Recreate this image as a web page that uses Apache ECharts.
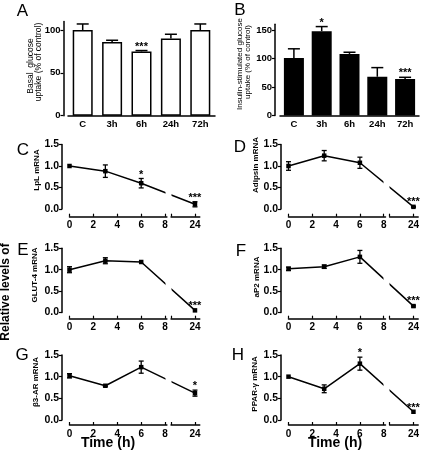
<!DOCTYPE html>
<html><head><meta charset="utf-8">
<script src="https://cdn.jsdelivr.net/npm/echarts@6/dist/echarts.min.js"></script>
<style>html,body{margin:0;padding:0;background:#fff}#c{width:427px;height:453px}</style>
</head><body><div id="c"></div>
<script>
// ---------- data: glucose uptake bar panels ----------
const barCats = ['C', '3h', '6h', '24h', '72h'];
const basalMean = [100, 86, 75, 90, 100];
const basalErr = [7, 2, 1, 5, 7];
const basalSig = ['', '', '***', '', ''];
const basalTicks = [0, 50, 100];
const insMean = [101, 148, 108, 68, 64];
const insErr = [16, 8, 3, 16, 3];
const insSig = ['', '*', '', '', '***'];
const insTicks = [0, 50, 100, 150];

// ---------- data: mRNA time courses ----------
const hours = [0, 3, 6, 24];
const xTicksLeft = [0, 2, 4, 6, 8];
const xTicksRight = [24];
const yTicks = [0, 0.5, 1.0, 1.5];
const lplMean = [1.0, 0.88, 0.60, 0.11];
const lplErr = [0, 0.145, 0.11, 0.06];
const lplSig = ['', '', '*', '***'];
const adipsinMean = [1.0, 1.24, 1.075, 0.05];
const adipsinErr = [0.1, 0.12, 0.13, 0.01];
const adipsinSig = ['', '', '', '***'];
const glutMean = [1.0, 1.21, 1.18, 0.05];
const glutErr = [0.07, 0.07, 0, 0];
const glutSig = ['', '', '', '***'];
const ap2Mean = [1.02, 1.07, 1.3, 0.15];
const ap2Err = [0.04, 0.04, 0.15, 0.02];
const ap2Sig = ['', '', '', '***'];
const b3Mean = [1.02, 0.79, 1.22, 0.62];
const b3Err = [0.05, 0.02, 0.14, 0.07];
const b3Sig = ['', '', '', '*'];
const pparMean = [1.0, 0.72, 1.3, 0.19];
const pparErr = [0, 0.09, 0.15, 0];
const pparSig = ['', '', '*', '***'];

const letters = ['A', 'B', 'C', 'D', 'E', 'F', 'G', 'H'];
const mrnaNames = ['LpL mRNA', 'Adipsin mRNA', 'GLUT-4 mRNA', 'aP2 mRNA', '\u03B23-AR mRNA', 'PPAR-\u03B3 mRNA'];
const basalName = ['Basal  glucose', 'uptake (% of control)'];
const insName = ['Insulin-stimulated glucose', 'uptake (% of control)'];
const sharedY = 'Relative levels of';
const timeTitle = 'Time (h)';

// ---------- layout ----------
const FONT = "'Liberation Sans', Arial, Helvetica, sans-serif";
const BREAK_START = 8, BREAK_END = 22, GAP = 0.5, XMAX = 24.4, LEFT_END = 8.15;
const BLACK = '#000';

const grid = [], xAxis = [], yAxis = [], series = [], graphic = [];

function txt(x, y, text, font, rot) {
  graphic.push({type: 'text', x: x, y: y, rotation: rot || 0, silent: true,
    style: {text: text, font: font, fill: BLACK, textAlign: 'center', textVerticalAlign: 'middle', align: 'center', verticalAlign: 'middle'}});
}

function addBarPanel(c) {
  const gi = grid.length;
  grid.push({left: c.left, top: c.top, width: c.width, height: c.height});
  xAxis.push({type: 'category', gridIndex: gi, data: barCats,
    axisLine: {show: true, lineStyle: {color: BLACK, width: 1.5}}, axisTick: {show: false},
    axisLabel: {color: BLACK, fontFamily: FONT, fontWeight: 'bold', fontSize: 9.5, margin: 4}});
  yAxis.push({type: 'value', gridIndex: gi, min: 0, max: c.max, offset: c.offset,
    axisLine: {show: true, onZero: false, lineStyle: {color: BLACK, width: 1.5}},
    axisTick: {show: true, length: 3, customValues: c.ticks, lineStyle: {color: BLACK, width: 1.2}},
    axisLabel: {customValues: c.ticks, color: BLACK, fontFamily: FONT, fontWeight: 'bold', fontSize: 9.5, margin: 3},
    splitLine: {show: false}});
  series.push({type: 'bar', xAxisIndex: gi, yAxisIndex: gi, data: c.mean, barWidth: 20, silent: true,
    itemStyle: {color: c.fill, borderColor: BLACK, borderWidth: 1.5}});
  const sig = c.sig;
  series.push({type: 'custom', xAxisIndex: gi, yAxisIndex: gi, silent: true, z: 5,
    data: c.mean.map((m, i) => [i, m, c.err[i]]),
    renderItem: function (params, api) {
      const i = params.dataIndex;
      const base = api.coord([api.value(0), api.value(1)]);
      const top = api.coord([api.value(0), api.value(1) + api.value(2)]);
      const ch = [
        {type: 'line', shape: {x1: base[0], y1: base[1], x2: top[0], y2: top[1]}, style: {stroke: BLACK, lineWidth: 1.5}},
        {type: 'line', shape: {x1: top[0] - 6, y1: top[1], x2: top[0] + 6, y2: top[1]}, style: {stroke: BLACK, lineWidth: 1.5}}
      ];
      if (sig[i]) ch.push({type: 'text', x: top[0], y: top[1] - 4,
        style: {text: sig[i], font: 'bold 11px ' + FONT, fill: BLACK, textAlign: 'center', textVerticalAlign: 'middle', align: 'center', verticalAlign: 'middle'}});
      return {type: 'group', children: ch};
    }});
}

function addTimePanel(p) {
  const W = (BREAK_START + GAP + (XMAX - BREAK_END)) * p.px;
  const axStyle = {color: BLACK, width: 1.5};
  const lab = {color: BLACK, fontFamily: FONT, fontWeight: 'bold', fontSize: 10};
  // data grid
  const gi = grid.length;
  grid.push({left: p.x0, top: p.top, width: W, height: p.bottom - p.top});
  xAxis.push({type: 'value', gridIndex: gi, min: 0, max: XMAX,
    breaks: [{start: BREAK_START, end: BREAK_END, gap: GAP}],
    breakArea: {show: true, expandOnClick: false, zigzagAmplitude: 0, zigzagZ: 200,
      itemStyle: {color: '#fff', borderColor: '#fff', borderWidth: 0, opacity: 1}},
    axisLine: {show: false}, axisTick: {show: false}, axisLabel: {show: false}, splitLine: {show: false}});
  yAxis.push({type: 'value', gridIndex: gi, min: 0, max: 1.5, interval: 0.5, offset: p.x0 - p.yAxisX,
    axisLine: {show: true, onZero: false, lineStyle: axStyle},
    axisTick: {show: true, length: 3, customValues: yTicks, lineStyle: {color: BLACK, width: 1.2}},
    axisLabel: Object.assign({customValues: yTicks, margin: 3, formatter: v => Number(v).toFixed(1)}, lab, {fontSize: 10.5}),
    splitLine: {show: false}});
  series.push({type: 'line', xAxisIndex: gi, yAxisIndex: gi, silent: true, clip: false,
    data: hours.map((h, i) => [h, p.mean[i]]), symbol: 'rect', symbolSize: 4.5, z: 3,
    lineStyle: {color: BLACK, width: 1.5}, itemStyle: {color: BLACK}});
  const sig = p.sig;
  series.push({type: 'custom', xAxisIndex: gi, yAxisIndex: gi, silent: true, clip: false, z: 4,
    data: hours.map((h, i) => [h, p.mean[i], p.err[i]]),
    renderItem: function (params, api) {
      const i = params.dataIndex;
      const h = api.value(0), m = api.value(1), e = api.value(2);
      const hi = api.coord([h, m + e]);
      const lo = api.coord([h, m - e]);
      const ch = [];
      if (e > 0) {
        ch.push({type: 'line', shape: {x1: hi[0], y1: hi[1], x2: lo[0], y2: lo[1]}, style: {stroke: BLACK, lineWidth: 1.3}});
        ch.push({type: 'line', shape: {x1: hi[0] - 2.5, y1: hi[1], x2: hi[0] + 2.5, y2: hi[1]}, style: {stroke: BLACK, lineWidth: 1.3}});
        ch.push({type: 'line', shape: {x1: lo[0] - 2.5, y1: lo[1], x2: lo[0] + 2.5, y2: lo[1]}, style: {stroke: BLACK, lineWidth: 1.3}});
      }
      if (sig[i]) ch.push({type: 'text', x: hi[0], y: hi[1] - 4,
        style: {text: sig[i], font: 'bold 11px ' + FONT, fill: BLACK, textAlign: 'center', textVerticalAlign: 'middle', align: 'center', verticalAlign: 'middle'}});
      return {type: 'group', children: ch};
    }});
  // visible broken x axis: left part
  const gl = grid.length;
  grid.push({left: p.x0, top: p.xAxisY - 10, width: LEFT_END * p.px, height: 10});
  xAxis.push({type: 'value', gridIndex: gl, min: 0, max: LEFT_END,
    axisLine: {show: true, onZero: false, lineStyle: axStyle},
    axisTick: {show: true, inside: true, length: 3, customValues: xTicksLeft, lineStyle: {color: BLACK, width: 1.2}},
    axisLabel: Object.assign({customValues: xTicksLeft, margin: 4}, lab), splitLine: {show: false}});
  yAxis.push({type: 'value', gridIndex: gl, show: false, min: 0, max: 1});
  // right part
  const gr = grid.length;
  grid.push({left: p.x0 + (BREAK_START + GAP) * p.px, top: p.xAxisY - 10, width: (XMAX - BREAK_END) * p.px, height: 10});
  xAxis.push({type: 'value', gridIndex: gr, min: BREAK_END, max: XMAX,
    axisLine: {show: true, onZero: false, lineStyle: axStyle},
    axisTick: {show: true, inside: true, length: 3, customValues: [BREAK_END].concat(xTicksRight), lineStyle: {color: BLACK, width: 1.2}},
    axisLabel: Object.assign({customValues: xTicksRight, margin: 4}, lab), splitLine: {show: false}});
  yAxis.push({type: 'value', gridIndex: gr, show: false, min: 0, max: 1});
}

addBarPanel({left: 68, top: 21.4, width: 147, height: 94.3, max: 110, offset: 4.5, ticks: basalTicks,
  mean: basalMean, err: basalErr, sig: basalSig, fill: '#fff'});
addBarPanel({left: 280, top: 24.3, width: 139, height: 91.2, max: 160, offset: 5, ticks: insTicks,
  mean: insMean, err: insErr, sig: insSig, fill: '#000'});

const L = {yAxisX: 62, x0: 69.5, px: 11.95};
const R = {yAxisX: 281, x0: 288.5, px: 11.9};
const rows = [{top: 144.5, bottom: 209, xAxisY: 216.7}, {top: 248.3, bottom: 312.5, xAxisY: 318.7}, {top: 355, bottom: 420, xAxisY: 425}];
const tp = [
  [L, rows[0], lplMean, lplErr, lplSig],
  [R, rows[0], adipsinMean, adipsinErr, adipsinSig],
  [L, rows[1], glutMean, glutErr, glutSig],
  [R, rows[1], ap2Mean, ap2Err, ap2Sig],
  [L, rows[2], b3Mean, b3Err, b3Sig],
  [R, rows[2], pparMean, pparErr, pparSig]
];
tp.forEach(t => addTimePanel(Object.assign({}, t[0], t[1], {mean: t[2], err: t[3], sig: t[4]})));

// texts
const letterPos = [[22.5, 11], [240, 10.5], [23, 150], [240, 147], [23, 250], [241, 251], [22, 355], [238, 355]];
letters.forEach((l, i) => txt(letterPos[i][0], letterPos[i][1], l, '17px ' + FONT));
const namePos = [[37, 170], [256, 165], [35, 275], [257, 277], [36, 382], [255, 384]];
mrnaNames.forEach((n, i) => txt(namePos[i][0], namePos[i][1], n, 'bold 8px ' + FONT, Math.PI / 2));
txt(30.5, 66, basalName[0], '8.5px ' + FONT, Math.PI / 2);
txt(38.5, 62, basalName[1], '8.5px ' + FONT, Math.PI / 2);
txt(240, 64, insName[0], '8px ' + FONT, Math.PI / 2);
txt(248, 62, insName[1], '8px ' + FONT, Math.PI / 2);
txt(6, 292, sharedY, 'bold 12px ' + FONT, Math.PI / 2);
txt(108, 443, timeTitle, 'bold 14px ' + FONT);
txt(335, 443, timeTitle, 'bold 14px ' + FONT);

const chart = echarts.init(document.getElementById('c'));
chart.setOption({animation: false, backgroundColor: '#fff', grid, xAxis, yAxis, series, graphic});
</script></body></html>
